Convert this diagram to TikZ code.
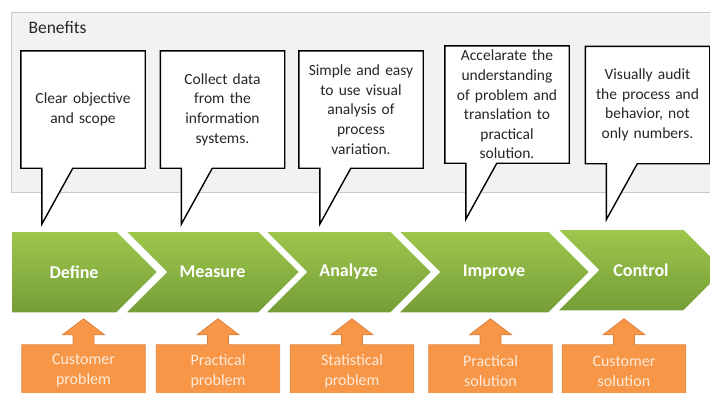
\documentclass[tikz,border=0pt]{standalone}
\usepackage{fontspec}
\setmainfont{Carlito}
\usetikzlibrary{shapes.symbols,backgrounds}

\definecolor{panelgray}{RGB}{242,242,242}
\definecolor{panelline}{RGB}{200,200,200}
\definecolor{greentop}{RGB}{158,199,76}
\definecolor{greenbot}{RGB}{116,157,56}
\definecolor{orangefill}{RGB}{247,150,70}
\definecolor{orangeline}{RGB}{222,128,60}
\definecolor{orangetext}{RGB}{253,234,218}
\definecolor{boxtext}{RGB}{38,38,38}

\begin{document}
\begin{tikzpicture}[x=1pt,y=-1pt,
  bubble/.style={inner sep=0pt,text width=124pt,minimum height=117pt,align=center,
    text=boxtext,font=\fontsize{15.5}{19.6}\selectfont},
  bubbleline/.style={draw=black,fill=white,line width=1.4pt,line join=miter},
  greenfill/.style={draw=white,line width=1.5pt,top color=greentop,bottom color=greenbot},
  phase/.style={signal,signal to=east,signal from=west,minimum height=82pt,inner sep=0pt,
    greenfill,text=white,font=\fontsize{18}{20}\selectfont\bfseries},
  need/.style={inner sep=0pt,text width=123pt,minimum height=52pt,align=center,
    text=orangetext,font=\fontsize{16}{20}\selectfont},
  needline/.style={draw=orangeline,fill=orangefill,line width=0.8pt}]
\useasboundingbox (0,0) rectangle (710,392);

% Panel
\begin{scope}[on background layer]
\draw[panelline,fill=panelgray,line width=1pt] (11,12) rectangle (720,192);
\end{scope}
\node[anchor=base west,text=boxtext,font=\fontsize{17.5}{20}\selectfont] (benefits) at (25,33) {Benefits};

% Callouts
\node[bubble] (clear) at (83,109.5) {Clear objective\\and scope};
\node[bubble] (collect) at (222.5,109.5) {Collect data\\from the\\information\\systems.};
\node[bubble] (simple) at (361,109.5) {Simple and easy\\to use visual\\analysis of\\process\\variation.};
\node[bubble] (speed) at (507,104.5) {Accelarate the\\understanding\\of problem and\\translation to\\practical\\solution.};
\node[bubble] (audit) at (647.5,105) {Visually audit\\the process and\\behavior, not\\only numbers.};

\begin{scope}[on background layer]
\draw[bubbleline] (clear.north west) -- (clear.north east) -- (clear.south east)
  -- ([xshift=52pt]clear.south west) -- ([xshift=21pt,yshift=-56pt]clear.south west)
  -- ([xshift=21pt]clear.south west) -- (clear.south west) -- cycle;
\draw[bubbleline] (collect.north west) -- (collect.north east) -- (collect.south east)
  -- ([xshift=52pt]collect.south west) -- ([xshift=21pt,yshift=-56pt]collect.south west)
  -- ([xshift=21pt]collect.south west) -- (collect.south west) -- cycle;
\draw[bubbleline] (simple.north west) -- (simple.north east) -- (simple.south east)
  -- ([xshift=52pt]simple.south west) -- ([xshift=21pt,yshift=-56pt]simple.south west)
  -- ([xshift=21pt]simple.south west) -- (simple.south west) -- cycle;
\draw[bubbleline] (speed.north west) -- (speed.north east) -- (speed.south east)
  -- ([xshift=52pt]speed.south west) -- ([xshift=21pt,yshift=-56pt]speed.south west)
  -- ([xshift=21pt]speed.south west) -- (speed.south west) -- cycle;
\draw[bubbleline] (audit.north west) -- (audit.north east) -- (audit.south east)
  -- ([xshift=52pt]audit.south west) -- ([xshift=21pt,yshift=-56pt]audit.south west)
  -- ([xshift=21pt]audit.south west) -- (audit.south west) -- cycle;
\end{scope}

% Phases
\shade[greenfill] (11,231) -- (117,231) -- (158,272) -- (117,313) -- (11,313) -- cycle;
\node[text=white,font=\fontsize{18}{20}\selectfont\bfseries] (define) at (74,272) {Define};
\node[phase,minimum width=175pt] (measure) at (212.5,272) {Measure};
\node[phase,minimum width=167pt] (analyze) at (348.5,272) {Analyze};
\node[phase,minimum width=192pt] (improve) at (494,272) {Improve};
\node[phase,minimum width=168pt] (control) at (641,270) {Control};

% Inputs
\node[need] (custProb) at (83.5,371) {Customer\\problem};
\node[need] (pracProb) at (218,371) {Practical\\problem};
\node[need] (statProb) at (352,371) {Statistical\\problem};
\node[need] (pracSol) at (490.5,371) {Practical\\solution};
\node[need] (custSol) at (624,371) {Customer\\solution};

\begin{scope}[on background layer]
\draw[needline] (custProb.south west) -- (custProb.north west) -- ([xshift=-10.5pt]custProb.north)
  -- ++(0,-10) -- ++(-10.5,0) -- ++(21,-16) -- ++(21,16) -- ++(-10.5,0) -- ++(0,10)
  -- (custProb.north east) -- (custProb.south east) -- cycle;
\draw[needline] (pracProb.south west) -- (pracProb.north west) -- ([xshift=-10.5pt]pracProb.north)
  -- ++(0,-10) -- ++(-10.5,0) -- ++(21,-16) -- ++(21,16) -- ++(-10.5,0) -- ++(0,10)
  -- (pracProb.north east) -- (pracProb.south east) -- cycle;
\draw[needline] (statProb.south west) -- (statProb.north west) -- ([xshift=-10.5pt]statProb.north)
  -- ++(0,-10) -- ++(-10.5,0) -- ++(21,-16) -- ++(21,16) -- ++(-10.5,0) -- ++(0,10)
  -- (statProb.north east) -- (statProb.south east) -- cycle;
\draw[needline] (pracSol.south west) -- (pracSol.north west) -- ([xshift=-10.5pt]pracSol.north)
  -- ++(0,-10) -- ++(-10.5,0) -- ++(21,-16) -- ++(21,16) -- ++(-10.5,0) -- ++(0,10)
  -- (pracSol.north east) -- (pracSol.south east) -- cycle;
\draw[needline] (custSol.south west) -- (custSol.north west) -- ([xshift=-10.5pt]custSol.north)
  -- ++(0,-10) -- ++(-10.5,0) -- ++(21,-16) -- ++(21,16) -- ++(-10.5,0) -- ++(0,10)
  -- (custSol.north east) -- (custSol.south east) -- cycle;
\end{scope}
\end{tikzpicture}
\end{document}
